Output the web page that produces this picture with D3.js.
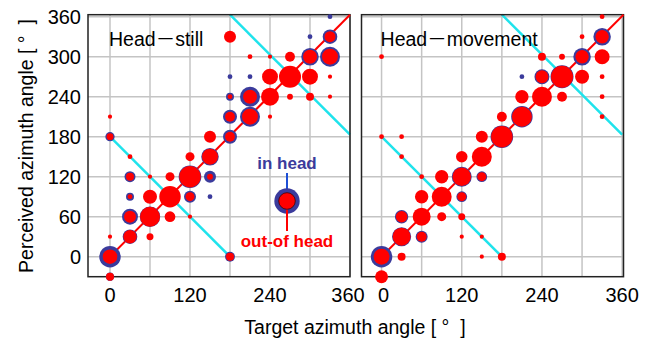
<!DOCTYPE html>
<html><head><meta charset="utf-8">
<script src="https://cdn.jsdelivr.net/npm/d3@7"></script>
<style>body{margin:0;background:#fff}svg{display:block}text{font-family:"Liberation Sans",Arial,sans-serif}</style>
</head><body><svg id="c" width="647" height="341"></svg>
<script>
// Data (target azimuth, perceived azimuth, total responses, out-of-head responses)
const stillTarget    = [0,0,0,0,0, 30,30,30,30,30, 60,60,60,60, 90,90,90, 120,120,120,120, 150,150,150,150, 180,180,180,180,180,180, 210,210,210,210, 240,240,240,240, 270,270,270, 300,300,300,300, 330,330,330,330,330];
const stillPerceived = [0,-30,30,180,210, 30,60,90,120,150, 30,60,90,120, 90,60,120, 120,90,60,150, 150,120,90,180, 180,210,240,270,330,0, 210,240,270,300, 210,240,270,300, 270,300,240, 270,300,240,330, 300,330,360,270,240];
const stillTotal     = [80,12,3,15,3, 37,44,11,21,4, 8.5,72,34,3, 80,20,14, 89,25,3,14, 53,25,4,25, 34,34,11,4,25,17, 69,69,4,4, 3,56,44,3, 84,17,6, 44,53,11,4, 69,37,4,3,3];
const stillOut       = [37,11,3,8,3, 31,25,4,11,4, 8.5,69,34,3, 80,20,14, 80,14,3,14, 44,6,0,25, 17,17,4,0,25,11, 44,34,0,4, 3,56,44,3, 84,17,6, 44,34,11,0, 44,21,0,3,3];

const moveTarget     = [0,0,0,0, 30,30,30,30,30, 60,60,60,60, 90,90,90, 120,120,120,120,120, 150,150,150,150,150, 180,180,180, 210,210,210, 240,240,240, 270,270,270, 300,300,300, 330,330,330,330,330,330];
const movePerceived  = [0,-30,180,300, 30,60,0,150,180, 60,90,30,120, 90,120,60, 120,150,90,60,30, 150,180,120,30,0, 180,210,0, 210,240,270, 240,270,300, 270,240,300, 270,300,330, 330,300,270,240,210,360];
const moveTotal      = [80,29,4,4, 63,31,11,4,4, 56,31,25,4, 69,31,14, 69,23,20,8.5,3, 69,25,20,3,3, 89,17,11, 80,31,4, 69,39,11, 92,17,6, 34,53,4, 53,39,4,4,4,4];
const moveOut        = [44,29,4,4, 56,23,11,4,4, 56,31,17,4, 69,31,14, 60,23,14,8.5,3, 69,25,14,3,3, 80,17,11, 69,31,0, 69,29,11, 84,17,6, 34,31,4, 31,39,4,4,4,4];

const xTicks = [0,120,240,360];
const yTicks = [0,60,120,180,240,300,360];
const gridValues = [0,60,120,180,240,300,360];
const panelTitles = [["Head","still"],["Head","movement"]];

const svg = d3.select("#c");
const RED = "#ff0000", BLUE = "#3b3b9c", CYAN = "#1fe3ec", GRID = "#c4c4c4";
const y = d3.scaleLinear().domain([-30, 363]).range([276.7, 14.7]);
const r = d3.scaleSqrt().domain([0,100]).range([0,12]);

const panels = [
  {x: d3.scaleLinear().domain([-33, 360]).range([88, 350]), t: stillTarget, p: stillPerceived, tot: stillTotal, out: stillOut, title: panelTitles[0]},
  {x: d3.scaleLinear().domain([-30, 362]).range([361.5, 623.5]), t: moveTarget, p: movePerceived, tot: moveTotal, out: moveOut, title: panelTitles[1]}
];

panels.forEach((P, pi) => {
  const g = svg.append("g");
  const x = P.x;
  const [x0, x1] = x.range();
  const [yb, yt] = y.range();
  g.selectAll(".gv").data(gridValues).join("line")
    .attr("x1", d => x(d)).attr("x2", d => x(d)).attr("y1", yb).attr("y2", yt)
    .attr("stroke", GRID).attr("stroke-width", 1.5);
  g.selectAll(".gh").data(gridValues).join("line")
    .attr("x1", x0).attr("x2", x1).attr("y1", d => y(d)).attr("y2", d => y(d))
    .attr("stroke", GRID).attr("stroke-width", 1.5);
  g.append("line").attr("x1", x(0)).attr("y1", y(180)).attr("x2", x(180)).attr("y2", y(0))
    .attr("stroke", CYAN).attr("stroke-width", 2.5);
  g.append("line").attr("x1", x(180)).attr("y1", y(363)).attr("x2", x(360)).attr("y2", y(183))
    .attr("stroke", CYAN).attr("stroke-width", 2.5);
  g.append("rect").attr("x", x0).attr("y", yt).attr("width", x1 - x0).attr("height", yb - yt)
    .attr("fill", "none").attr("stroke", "#222").attr("stroke-width", 1.5);
  g.append("line").attr("x1", x(0)).attr("y1", y(0)).attr("x2", x1).attr("y2", yt)
    .attr("stroke", RED).attr("stroke-width", 2);
  // title with long dash
  const tt = g.append("text").attr("x", x(0) - 1).attr("y", 46).attr("font-size", 19.5).attr("fill", "#000");
  tt.append("tspan").text(P.title[0]);
  tt.append("tspan").attr("font-family", "'Noto Sans CJK JP'").text("\uFF0D");
  tt.append("tspan").text(P.title[1]);
  const data = P.t.map((t, i) => ({t, p: P.p[i], tot: P.tot[i], out: P.out[i]}));
  const b = g.selectAll(".b").data(data).join("g");
  b.filter(d => d.tot > d.out).append("circle")
    .attr("cx", d => x(d.t)).attr("cy", d => y(d.p)).attr("r", d => r(d.tot)).attr("fill", BLUE);
  b.filter(d => d.out > 0).append("circle")
    .attr("cx", d => x(d.t)).attr("cy", d => y(d.p)).attr("r", d => r(d.out)).attr("fill", RED);
  g.selectAll(".xt").data(xTicks).join("text")
    .attr("x", d => x(d) - (pi === 0 && d === 360 ? 2 : 0) + (pi === 1 && d === 0 ? 2 : 0))
    .attr("y", 302).attr("text-anchor", "middle").attr("font-size", 20).text(d => d);
});

svg.selectAll(".yt").data(yTicks).join("text")
  .attr("x", 81).attr("y", d => y(d) + 7.5).attr("text-anchor", "end").attr("font-size", 20).text(d => d);

svg.append("text").attr("x", 355).attr("y", 334).attr("text-anchor", "middle").attr("font-size", 19.5)
  .style("white-space", "pre").text("Target azimuth angle [ \u00B0  ]");
svg.append("text").attr("transform", "translate(33,146) rotate(-90)").attr("text-anchor", "middle").attr("font-size", 19.5)
  .style("white-space", "pre").text("Perceived azimuth angle [ \u00B0  ]");

const lx = 287, ly = 201;
svg.append("line").attr("x1", lx).attr("x2", lx).attr("y1", 173).attr("y2", ly).attr("stroke", "#1d4fd6").attr("stroke-width", 2);
svg.append("circle").attr("cx", lx).attr("cy", ly).attr("r", 12.7).attr("fill", BLUE);
svg.append("circle").attr("cx", lx).attr("cy", ly).attr("r", 8.3).attr("fill", RED).attr("stroke", "#400").attr("stroke-width", 0.8);
svg.append("line").attr("x1", lx).attr("x2", lx).attr("y1", ly + 8.7).attr("y2", 231).attr("stroke", RED).attr("stroke-width", 2);
svg.append("text").attr("x", lx).attr("y", 169).attr("text-anchor", "middle").attr("font-size", 17).attr("font-weight", "bold").attr("fill", BLUE).text("in head");
svg.append("text").attr("x", lx).attr("y", 247).attr("text-anchor", "middle").attr("font-size", 17).attr("font-weight", "bold").attr("fill", RED).text("out-of head");
</script></body></html>
